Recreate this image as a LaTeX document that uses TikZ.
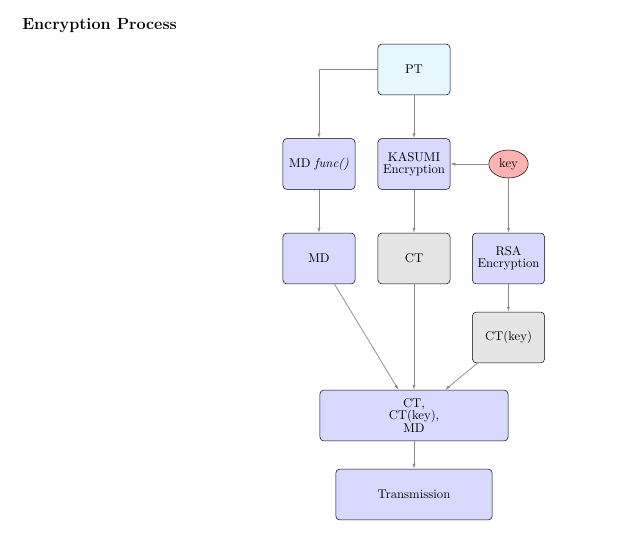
\documentclass[tikz,border=0pt]{standalone}
\usetikzlibrary{arrows.meta,shapes.geometric}
\begin{document}
\begin{tikzpicture}[x=0.787pt,y=-0.787pt,
  box/.style={draw=black,rounded corners=3pt,minimum width=56.7pt,minimum height=40pt,align=center,inner sep=1pt,font={\fontsize{10}{9.5}\selectfont}},
  bluebox/.style={box,fill=blue!15},
  graybox/.style={box,fill=black!10},
  conn/.style={draw=black!45,line width=0.6pt,-{Latex[length=4pt,width=2.6pt]}}]
\useasboundingbox (0,0) rectangle (618,546);
\node[anchor=west,font={\fontsize{12.7}{15}\selectfont\bfseries},inner sep=0pt] (title) at (22,26) {Encryption Process};
\node[box,fill=cyan!10] (pt) at (414,69.5) {PT};
\node[bluebox] (mdf) at (319,164) {MD \textit{func()}};
\node[bluebox] (kas) at (414,164) {KASUMI\\Encryption};
\node[draw=black,ellipse,fill=red!30,minimum width=31pt,minimum height=22pt,inner sep=1pt] (key) at (508.5,164) {key};
\node[bluebox] (md) at (319,258.5) {MD};
\node[graybox] (ct) at (414,258.5) {CT};
\node[bluebox] (rsa) at (508.5,258.5) {RSA\\Encryption};
\node[graybox] (ctk) at (508.5,337.5) {CT(key)};
\node[bluebox,minimum width=148pt] (comb) at (414,415.5) {CT,\\CT(key),\\MD};
\node[bluebox,minimum width=123pt] (tr) at (414,494.5) {Transmission};
\draw[conn] (pt.west) -| (mdf.north);
\draw[conn] (pt) -- (kas);
\draw[conn] (key) -- (kas);
\draw[conn] (key) -- (rsa);
\draw[conn] (mdf) -- (md);
\draw[conn] (kas) -- (ct);
\draw[conn] (rsa) -- (ctk);
\draw[conn] (md) -- (comb);
\draw[conn] (ct) -- (comb);
\draw[conn] (ctk) -- (comb);
\draw[conn] (comb) -- (tr);
\end{tikzpicture}
\end{document}
